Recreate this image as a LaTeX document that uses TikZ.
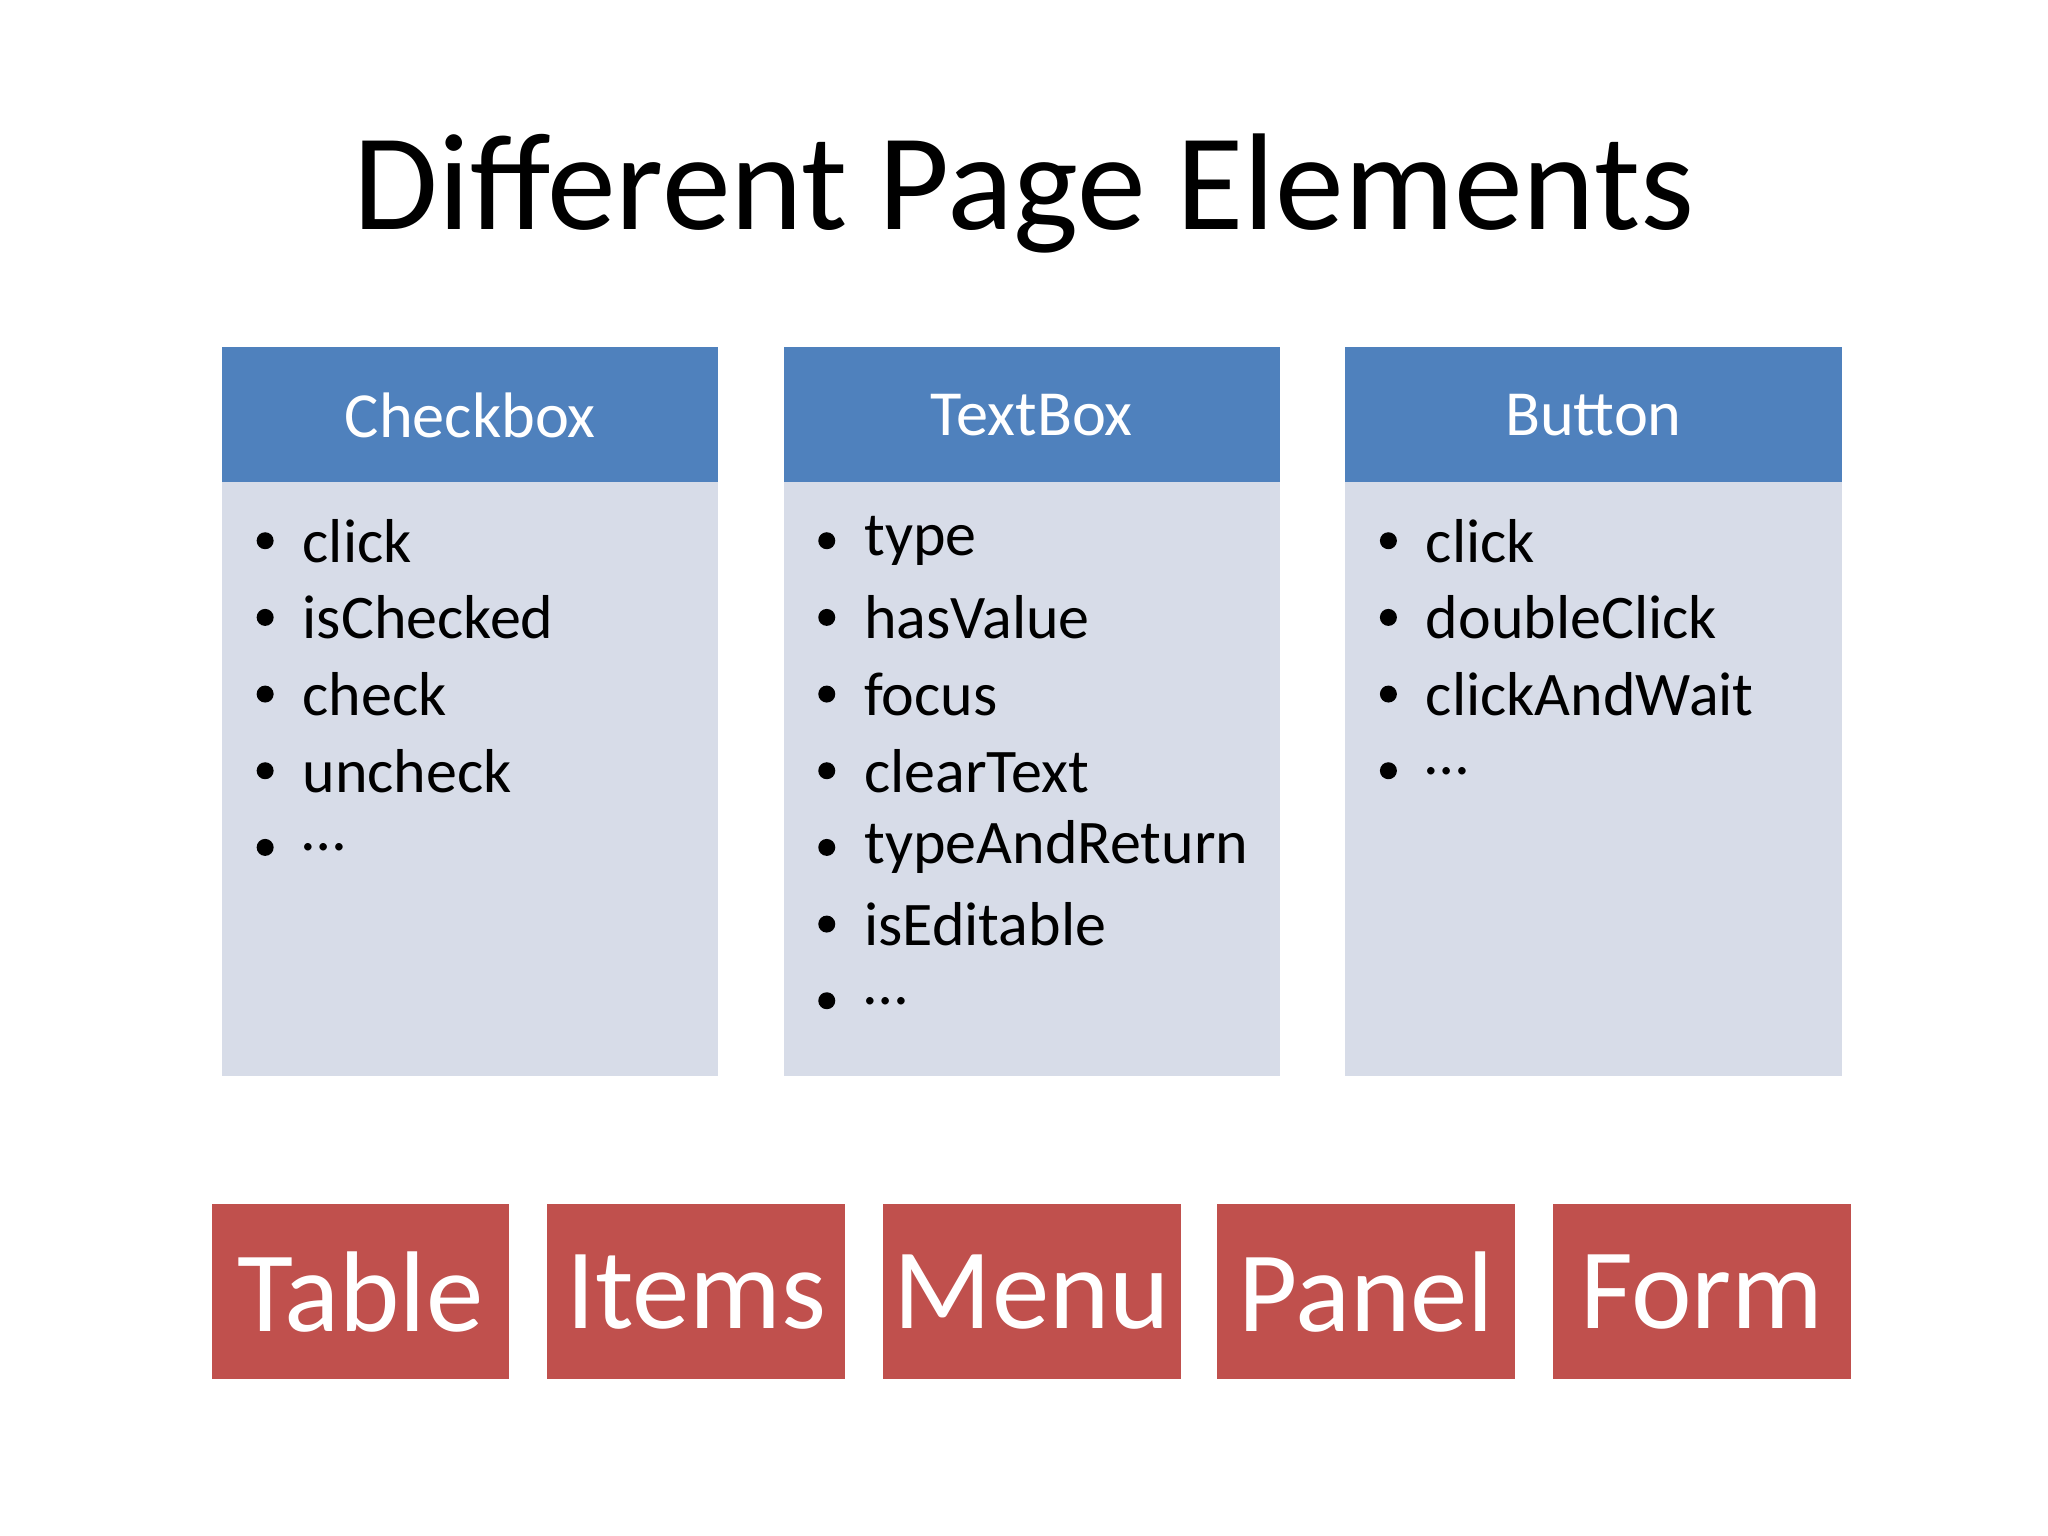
\documentclass[tikz,border=0pt]{standalone}
\usepackage{fontspec}
\setmainfont{Carlito}
\begin{document}
\begin{tikzpicture}[x=0.01cm,y=-0.01cm,
  hdr/.style={fill=hdrblue,draw=none},
  bodybox/.style={fill=bodygray,draw=none},
  redbox/.style={fill=boxred,draw=none,minimum width=228\dimexpr0.01cm\relax},
  item/.style={anchor=west,font=\fontsize{13.5pt}{16pt}\selectfont,inner sep=0pt},
  dot/.style={circle,fill=black,inner sep=0pt,minimum size=0.13cm}]
\definecolor{hdrblue}{HTML}{4F81BD}
\definecolor{bodygray}{HTML}{D7DCE8}
\definecolor{boxred}{HTML}{C0504D}
\useasboundingbox (0,0) rectangle (1568,1176);
\fill[white] (0,0) rectangle (1568,1176);
\node[font=\fontsize{30pt}{34pt}\selectfont] (title) at (784,148) {Different Page Elements};
\foreach \x/\name/\lab in {170/cb/Checkbox,600/tb/TextBox,1030/bt/Button}{
  \fill[bodygray] (\x,369) rectangle (\x+380,824);
  \fill[hdrblue] (\x,266) rectangle (\x+380,369);
  \node[text=white,font=\fontsize{14pt}{16pt}\selectfont] (\name) at (\x+190,318) {\lab};
}
\foreach \i/\t in {0/click,1/isChecked,2/check,3/uncheck,4/\ldots}{
  \node[dot] (cbd\i) at (203,414+58.7*\i) {};
  \node[item] (cbi\i) at (231,414+58.7*\i) {\t};
}
\foreach \i/\t in {0/type,1/hasValue,2/focus,3/clearText,4/typeAndReturn,5/isEditable,6/\ldots}{
  \node[dot] (tbd\i) at (633,414+58.7*\i) {};
  \node[item] (tbi\i) at (661,414+58.7*\i) {\t};
}
\foreach \i/\t in {0/click,1/doubleClick,2/clickAndWait,3/\ldots}{
  \node[dot] (btd\i) at (1063,414+58.7*\i) {};
  \node[item] (bti\i) at (1091,414+58.7*\i) {\t};
}
\foreach \x/\name/\lab in {162/rt/Table,419/ri/Items,676/rm/Menu,932/rp/Panel,1189/rf/Form}{
  \fill[boxred] (\x,922) rectangle (\x+228,1056);
  \node[text=white,font=\fontsize{25pt}{28pt}\selectfont] (\name) at (\x+114,989) {\lab};
}
\end{tikzpicture}
\end{document}
